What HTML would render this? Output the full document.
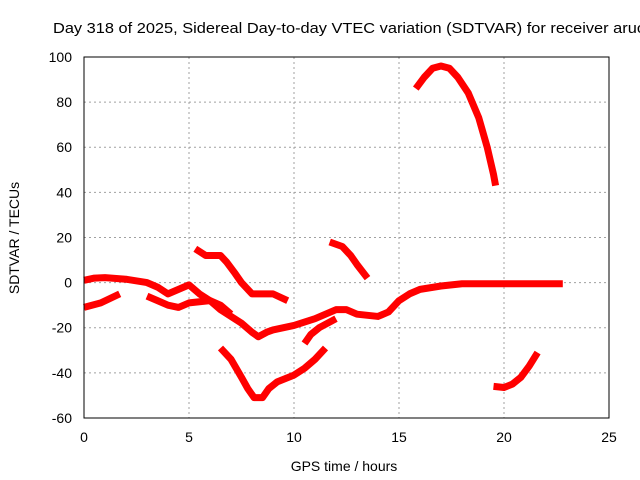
<!DOCTYPE html>
<html><head><meta charset="utf-8"><style>
body{margin:0;background:#fff;overflow:hidden}
svg{display:block;font-family:"Liberation Sans",sans-serif}
</style></head><body>
<svg id="chart" width="640" height="480" viewBox="0 0 640 480">
<text x="53" y="33" font-size="14.5" textLength="592" lengthAdjust="spacingAndGlyphs" fill="#000">Day 318 of 2025, Sidereal Day-to-day VTEC variation (SDTVAR) for receiver aruc</text>
<g id="grid"></g>
<g id="series"></g>
<rect x="84" y="57" width="525" height="361" fill="none" stroke="#000" stroke-width="1"/>
<g id="ticks"></g>
<text x="344" y="471" font-size="14" text-anchor="middle">GPS time / hours</text>
<text transform="translate(19,238) rotate(-90)" font-size="14" text-anchor="middle">SDTVAR / TECUs</text>
</svg>
<script>
const xTicks=[0,5,10,15,20,25];
const yTicks=[-60,-40,-20,0,20,40,60,80,100];
const s1=[[0,1],[0.5,2],[1,2.2],[2,1.5],[3,0],[3.5,-2],[4,-5],[4.5,-3],[5,-1],[5.5,-5],[6,-8],[6.5,-12],[7.5,-18],[8,-22],[8.3,-24],[8.7,-22],[9,-21],[10,-19],[11,-16],[11.5,-14],[12,-12],[12.5,-12],[13,-14],[14,-15],[14.5,-13],[15,-8],[15.5,-5],[16,-3],[17,-1.5],[18,-0.5],[20,-0.5],[22.8,-0.5]];
const s2=[[0,-11],[0.8,-9],[1.7,-5]];
const s3=[[3,-6],[3.5,-8],[4,-10],[4.5,-11],[5,-9],[6,-8],[6.5,-10],[7,-14]];
const s4=[[5.3,15],[5.8,12],[6.5,12],[6.8,9],[7.2,4],[7.5,0],[8,-5],[9,-5],[9.7,-8]];
const s5=[[6.5,-29],[7,-34],[7.5,-42],[7.8,-47],[8.1,-51],[8.5,-51],[8.8,-47],[9.2,-44],[10,-41],[10.5,-38],[11,-34],[11.5,-29]];
const s6=[[10.5,-27],[10.8,-23],[11.2,-20],[12,-16]];
const s7=[[11.7,18],[12.3,16],[12.7,12],[13,8],[13.5,2]];
const s8=[[15.8,86],[16.2,91],[16.6,95],[17,96],[17.4,95],[17.8,91],[18.3,84],[18.8,73],[19.2,60],[19.5,48],[19.6,43]];
const s9=[[19.5,-46],[20,-46.5],[20.4,-45],[20.8,-42],[21.2,-37],[21.6,-31]];
const allSeries=[s1,s2,s3,s4,s5,s6,s7,s8,s9];
const NS="http://www.w3.org/2000/svg";
const X=v=>84+v*21, Y=v=>282.6-v*2.256;
function mk(t,a,p){const e=document.createElementNS(NS,t);for(const k in a)e.setAttribute(k,a[k]);p.appendChild(e);return e;}
const grid=document.getElementById('grid'),ticks=document.getElementById('ticks'),ser=document.getElementById('series');
xTicks.forEach(v=>{
 if(v>0&&v<25){const l=mk('line',{x1:X(v),x2:X(v),y1:57,y2:418,stroke:'#a0a0a0','stroke-dasharray':'2,3'},grid);
 
 }
 const t=mk('text',{x:X(v),y:442,'font-size':14,'text-anchor':'middle'},ticks);t.textContent=v;
 
 
});
yTicks.forEach(v=>{
 if(v>-60&&v<100){const l=mk('line',{x1:84,x2:609,y1:Y(v),y2:Y(v),stroke:'#a0a0a0','stroke-dasharray':'2,3'},grid);
 
 }
 const t=mk('text',{x:72,y:Y(v)+5,'font-size':14,'text-anchor':'end'},ticks);t.textContent=v;
 
 
});
allSeries.forEach(s=>{
 const p=mk('polyline',{points:s.map(d=>X(d[0])+','+Y(d[1])).join(' '),fill:'none',stroke:'#ff0000','stroke-width':7,'stroke-linejoin':'round'},ser);
 
 
});
</script>
</body></html>
